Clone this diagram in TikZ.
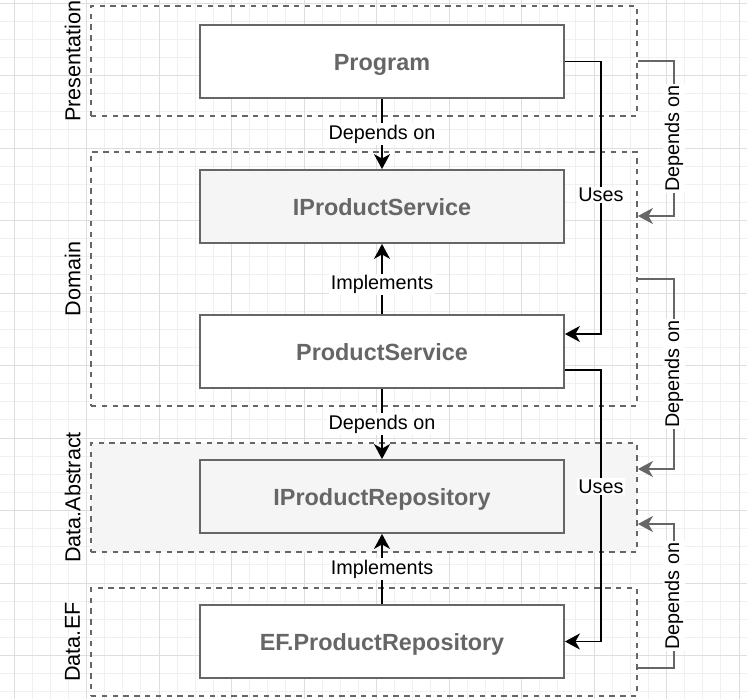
\documentclass[tikz,border=0pt]{standalone}
\usepackage{fontspec}
\setmainfont{Liberation Sans}
\usetikzlibrary{positioning, arrows.meta, calc}
\definecolor{strokegrey}{HTML}{666666}
\definecolor{fillgrey}{HTML}{F5F5F5}
\definecolor{gridminor}{HTML}{F0F0F0}
\definecolor{gridmajor}{HTML}{DEDEDE}

\begin{document}
\begin{tikzpicture}[x=1pt, y=-1pt, node distance=145pt, on grid,
    layerbox/.style={draw=strokegrey, line width=1.8pt, dash pattern=on 5.4pt off 5.4pt, minimum width=546pt},
    module/.style={draw=strokegrey, line width=1.8pt, fill=white, minimum width=364pt, minimum height=73pt,
                   text height=17pt, text depth=0pt,
                   text=strokegrey, font=\fontsize{23.4}{28}\selectfont\bfseries},
    layername/.style={rotate=90, font=\fontsize{21.6}{26}\selectfont},
    edgelabel/.style={fill=white, text=black, inner sep=1.5pt, font=\fontsize{19.8}{24}\selectfont},
    >={Stealth[length=15pt, width=16pt, inset=4.5pt]}]
    \useasboundingbox (0,0) rectangle (747,699);

    % background grid
    \foreach \gx in {-4.125,14,...,750} \draw[gridminor, line width=1pt] (\gx,0) -- (\gx,699);
    \foreach \gy in {3,21.125,...,700} \draw[gridminor, line width=1pt] (0,\gy) -- (747,\gy);
    \foreach \gx in {14,86.5,...,750} \draw[gridmajor, line width=1pt] (\gx,0) -- (\gx,699);
    \foreach \gy in {3,75.5,...,700} \draw[gridmajor, line width=1pt] (0,\gy) -- (747,\gy);

    % layers
    \node[layerbox, minimum height=110pt] (pres) at (364,61) {};
    \node[layerbox, minimum height=254pt] (dom) at (364,279) {};
    \node[layerbox, minimum height=109pt, fill=fillgrey] (dabs) at (364,497.5) {};
    \node[layerbox, minimum height=108pt] (def) at (364,642) {};

    \node[layername] (presname) at ([xshift=-17.5pt]pres.west) {Presentation};
    \node[layername] (domname) at ([xshift=-17.5pt]dom.west) {Domain};
    \node[layername] (dabsname) at ([xshift=-17.5pt]dabs.west) {Data.Abstract};
    \node[layername] (defname) at ([xshift=-17.5pt]def.west) {Data.EF};

    % modules
    \node[module] (prog) at (382,61.5) {Program};
    \node[module, fill=fillgrey] (isvc) [below of=prog] {IProductService};
    \node[module] (psvc) [below of=isvc] {ProductService};
    \node[module, fill=fillgrey] (irepo) [below of=psvc] {IProductRepository};
    \node[module] (efrepo) [below of=irepo] {EF.ProductRepository};

    \path[->, line width=1.8pt]
    (prog) edge node[edgelabel] {Depends on} (isvc)
    (psvc) edge node[edgelabel, pos=0.42] {Implements} (isvc)
    (psvc) edge node[edgelabel] {Depends on} (irepo)
    (efrepo) edge node[edgelabel] {Implements} (irepo)
    ;

    \draw[->, line width=1.8pt] (prog.east) -- ++(36,0)
        |- node[edgelabel, pos=0.245] {Uses} ([yshift=17.5pt]psvc.east);
    \draw[->, line width=1.8pt] ([yshift=-18.5pt]psvc.east) -- ++(36,0)
        |- node[edgelabel, pos=0.215] {Uses} (efrepo.east);

    \draw[->, line width=1.8pt, strokegrey] (pres.east) -- ++(36,0)
        |- node[edgelabel, rotate=90, pos=0.25] {Depends on} ([yshift=63pt]dom.east);
    \draw[->, line width=1.8pt, strokegrey] (dom.east) -- ++(36,0)
        |- node[edgelabel, rotate=90, pos=0.25] {Depends on} ([yshift=28.5pt]dabs.east);
    \draw[->, line width=1.8pt, strokegrey] ([yshift=-26pt]def.east) -- ++(36,0)
        |- node[edgelabel, rotate=90, pos=0.25] {Depends on} ([yshift=-26.5pt]dabs.east);
\end{tikzpicture}
\end{document}
